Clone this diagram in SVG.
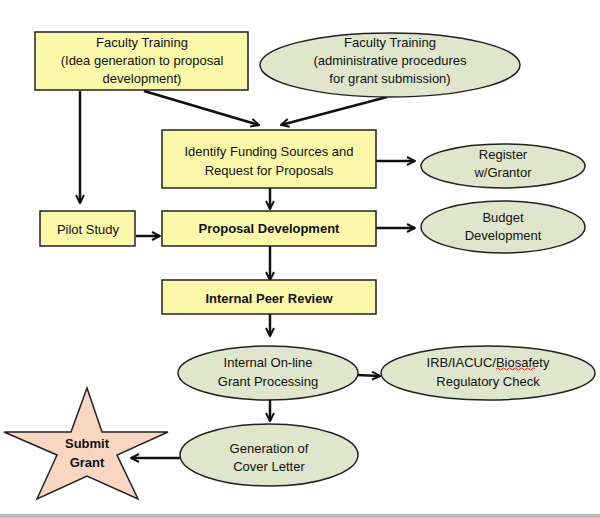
<svg xmlns="http://www.w3.org/2000/svg" width="600" height="518" viewBox="0 0 600 518">
<style>
text{font-family:"Liberation Sans",Arial,sans-serif;font-size:13px;fill:#111;text-anchor:middle}
.b{font-weight:bold}
.y{fill:#fbf8aa;stroke:#222;stroke-width:1.5}
.g{fill:#dfe6cc;stroke:#222;stroke-width:1.5}
.c{stroke:#111;stroke-width:2.5;fill:none;marker-end:url(#a)}
</style>
<defs><marker id="a" viewBox="0 0 10 10" refX="9" refY="5" markerWidth="4" markerHeight="4" orient="auto" markerUnits="strokeWidth"><path d="M1,1L9,5L1,9" fill="none" stroke="#111" stroke-width="2"/></marker></defs>
<rect width="600" height="518" fill="#fff"/>
<rect x="0" y="514" width="600" height="4" fill="#bbb"/>
<g id="connectors">
<path class="c" d="M144,91L259,125"/>
<path class="c" d="M387,97L281,125"/>
<path class="c" d="M80,91V203"/>
<path class="c" d="M376,161H415"/>
<path class="c" d="M270,188V209"/>
<path class="c" d="M136,236H160"/>
<path class="c" d="M376,228H415"/>
<path class="c" d="M270,246V280"/>
<path class="c" d="M270,314V336"/>
<path class="c" d="M357,375L380,376"/>
<path class="c" d="M270,400V421"/>
<path class="c" d="M180,458H131"/>
</g>
<g id="ft1"><rect class="y" x="35" y="32" width="213" height="58"/><text x="142" y="47">Faculty Training</text><text x="142" y="65">(Idea generation to proposal</text><text x="142" y="83">development)</text></g>
<g id="ft2"><ellipse class="g" cx="390" cy="65" rx="130" ry="32"/><text x="390" y="47">Faculty Training</text><text x="390" y="65">(administrative procedures</text><text x="390" y="83">for grant submission)</text></g>
<g id="identify"><rect class="y" x="162" y="130" width="214" height="58"/><text x="269" y="156">Identify Funding Sources and</text><text x="269" y="175">Request for Proposals</text></g>
<g id="register"><ellipse class="g" cx="503" cy="166" rx="82" ry="22"/><text x="503" y="159">Register</text><text x="503" y="177">w/Grantor</text></g>
<g id="pilot"><rect class="y" x="40" y="211" width="95" height="35"/><text x="88" y="234">Pilot Study</text></g>
<g id="proposal"><rect class="y" x="162" y="211" width="214" height="35"/><text class="b" x="269" y="233">Proposal Development</text></g>
<g id="budget"><ellipse class="g" cx="503" cy="227" rx="82" ry="26"/><text x="503" y="222">Budget</text><text x="503" y="240">Development</text></g>
<g id="peer"><rect class="y" x="162" y="280" width="214" height="34"/><text class="b" x="269" y="303">Internal Peer Review</text></g>
<g id="online"><ellipse class="g" cx="268" cy="373" rx="90" ry="27"/><text x="268" y="367">Internal On-line</text><text x="268" y="386">Grant Processing</text></g>
<g id="irb"><ellipse class="g" cx="488" cy="373" rx="107" ry="27"/><text x="488" y="367">IRB/IACUC/Biosafety</text><text x="488" y="386">Regulatory Check</text><path d="M496,369q1.5,-2 3,0t3,0t3,0t3,0t3,0t3,0t3,0t3,0t3,0t3,0t3,0t3,0t3,0" fill="none" stroke="#e02020" stroke-width="1"/></g>
<g id="cover"><ellipse class="g" cx="269" cy="455" rx="89" ry="31"/><text x="269" y="453">Generation of</text><text x="269" y="471">Cover Letter</text></g>
<g id="submit"><polygon fill="#f9d6c2" stroke="#222" stroke-width="1.5" points="87,388 102,432 168,432 117,455 138,499 87,476 37,499 57,455 4,432 71,432"/><text class="b" x="87" y="448">Submit</text><text class="b" x="87" y="467">Grant</text></g>
</svg>
